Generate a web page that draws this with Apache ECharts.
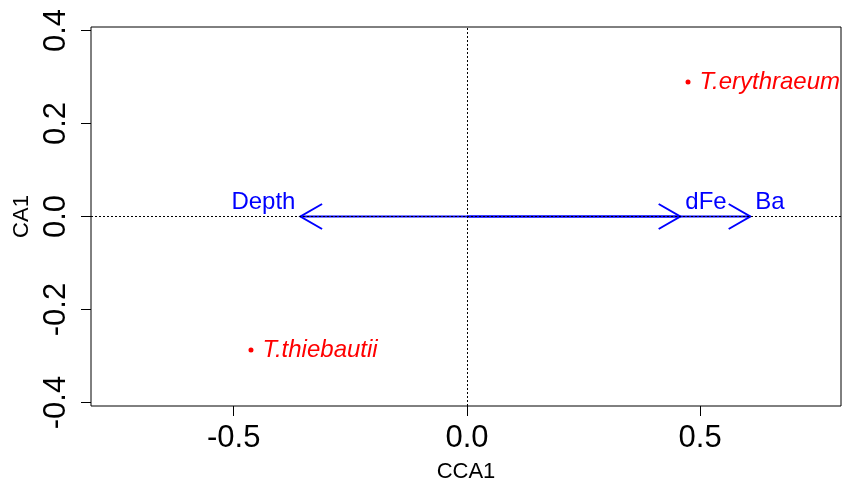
<!DOCTYPE html>
<html>
<head>
<meta charset="utf-8">
<script src="https://cdn.jsdelivr.net/npm/echarts@6/dist/echarts.min.js"></script>
<style>html,body{margin:0;padding:0;background:#fff}#c{width:842px;height:482px}</style>
</head>
<body>
<div id="c"></div>
<script>
// ---- data ----
const speciesNames = ['T.erythraeum', 'T.thiebautii'];
const speciesCCA1 = [0.474, -0.463];
const speciesCA1 = [0.289, -0.287];

const envNames = ['Depth', 'dFe', 'Ba'];
const envCCA1 = [-0.357, 0.4575, 0.6076];
const envCA1 = [0, 0, 0];

const xTicks = [-0.5, 0, 0.5];
const yTicks = [-0.4, -0.2, 0, 0.2, 0.4];
const xRange = [-0.806, 0.802];
const yRange = [-0.4075, 0.4075];

const FONT = '"Liberation Sans", Arial, sans-serif';

const chart = echarts.init(document.getElementById('c'), null, {renderer: 'canvas'});

const speciesData = speciesNames.map((n, i) => ({name: n, value: [speciesCCA1[i], speciesCA1[i]]}));
const envData = envNames.map((n, i) => ({name: n, value: [envCCA1[i], envCA1[i]]}));

chart.setOption({
  animation: false,
  backgroundColor: '#fff',
  grid: {left: 91, right: 1, top: 27, bottom: 76, show: true, borderColor: '#000', borderWidth: 1,
    containLabel: false, outerBoundsMode: 'none'},
  xAxis: {
    type: 'value', min: xRange[0], max: xRange[1],
    name: 'CCA1', nameLocation: 'middle', nameGap: 55,
    nameTextStyle: {fontFamily: FONT, fontSize: 22, color: '#000'},
    axisLine: {show: false, onZero: false},
    splitLine: {show: false},
    axisTick: {show: true, inside: false, length: 10, lineStyle: {color: '#000', width: 1}, customValues: xTicks},
    axisLabel: {show: true, margin: 17, fontFamily: FONT, fontSize: 31, color: '#000', customValues: xTicks,
      formatter: v => v.toFixed(1)}
  },
  yAxis: {
    type: 'value', min: yRange[0], max: yRange[1],
    name: 'CA1', nameLocation: 'middle', nameGap: 57,
    nameTextStyle: {fontFamily: FONT, fontSize: 22, color: '#000'},
    axisLine: {show: false, onZero: false},
    splitLine: {show: false},
    axisTick: {show: true, inside: false, length: 10, lineStyle: {color: '#000', width: 1}, customValues: yTicks},
    axisLabel: {show: true, margin: 19, rotate: 90, fontFamily: FONT, fontSize: 31, color: '#000', customValues: yTicks,
      formatter: v => v.toFixed(1)}
  },
  series: [
    {
      type: 'scatter',
      z: 3,
      data: speciesData,
      symbol: 'circle',
      symbolSize: 5,
      itemStyle: {color: '#FF0000', opacity: 1},
      label: {show: true, position: 'right', distance: 9, formatter: p => p.name,
        fontFamily: FONT, fontStyle: 'italic', fontSize: 24, color: '#FF0000'},
      emphasis: {disabled: true},
      markLine: {
        silent: true, symbol: 'none', animation: false,
        label: {show: false},
        lineStyle: {color: '#000', width: 1, type: [2, 2], opacity: 1},
        data: [{xAxis: 0}, {yAxis: 0}]
      }
    },
    {
      type: 'custom',
      z: 4,
      data: envData,
      renderItem: function (params, api) {
        const o = api.coord([0, 0]);
        const t = api.coord([api.value(0), api.value(1)]);
        const ang = Math.atan2(t[1] - o[1], t[0] - o[0]);
        const L = 25, a = Math.PI / 6;
        const h1 = [t[0] - L * Math.cos(ang - a), t[1] - L * Math.sin(ang - a)];
        const h2 = [t[0] - L * Math.cos(ang + a), t[1] - L * Math.sin(ang + a)];
        const name = envNames[params.dataIndex];
        const neg = t[0] < o[0];
        const style = {stroke: '#0000FF', lineWidth: 2, fill: null};
        return {
          type: 'group',
          children: [
            {type: 'line', shape: {x1: o[0], y1: o[1], x2: t[0], y2: t[1]}, style: style},
            {type: 'polyline', shape: {points: [h1, t, h2]}, style: style},
            {type: 'text', style: {
              x: neg ? t[0] - 5 : t[0] + 5, y: t[1] - 2,
              text: name, fill: '#0000FF', font: '24px ' + FONT,
              align: neg ? 'right' : 'left', verticalAlign: 'bottom'
            }}
          ]
        };
      }
    }
  ]
});
</script>
</body>
</html>
